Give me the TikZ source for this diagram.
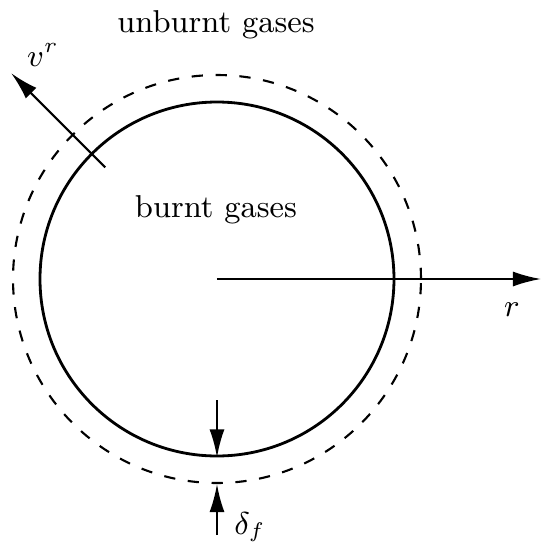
\documentclass[tikz,border=0pt]{standalone}
\usepackage{tikz}
\usetikzlibrary{arrows.meta, positioning, calc}
\usepackage{amsmath}

\begin{document}
\begin{tikzpicture}[
    every node/.style={font=\small},
    flame/.style={circle, draw, thick, minimum size=3.54cm, inner sep=0pt},
    front/.style={circle, draw, semithick, dash pattern=on 3.2pt off 3.6pt,
                  minimum size=4.08cm, inner sep=0pt},
    arr/.style={-{Latex[length=2.8mm, width=1.5mm]}, semithick}
]
    \useasboundingbox (-2.17,-2.74) rectangle (3.24,2.79);
    \coordinate (O) at (0,0);
    \node[front] (outer) at (O) {};
    \node[flame] (inner) at (O) {};
    \node (unburnt) at (-0.01,2.54) {unburnt gases};
    \node (burnt) at (-0.01,0.69) {burnt gases};
    % radial axis
    \coordinate (rend) at (3.24,0);
    \node (rlabel) at (2.95,-0.31) {$r$};
    \draw[arr] (O) -- (rend);
    % flame speed
    \coordinate (vfoot) at (135:1.58);
    \coordinate (vtip) at (135:2.91);
    \node (vlabel) at (-1.74,2.24) {$v^r$};
    \draw[arr] (vfoot) -- (vtip);
    % flame thickness
    \coordinate (dtop) at (0,-1.21);
    \coordinate (dbot) at (0,-2.56);
    \node (dlabel) at (0.33,-2.48) {$\delta_f$};
    \draw[arr] (dtop) -- (inner.south);
    \draw[arr] (dbot) -- (outer.south);
\end{tikzpicture}
\end{document}
